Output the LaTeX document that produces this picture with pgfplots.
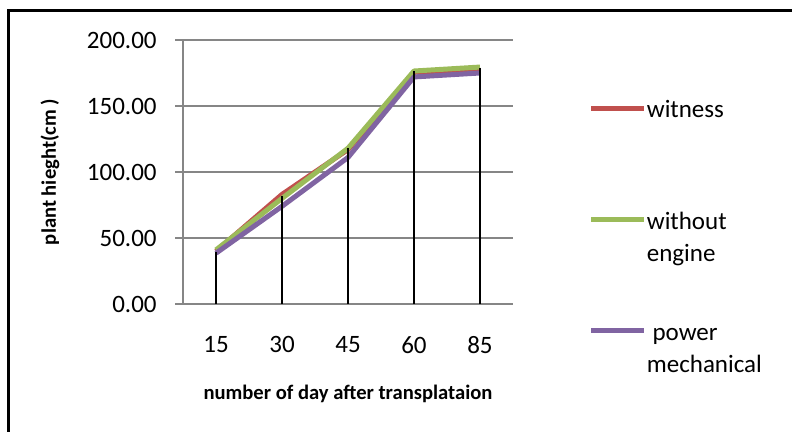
\documentclass[border=0pt]{standalone}
\usepackage{pgfplots}
\pgfplotsset{compat=1.18}
\usepackage{fontspec}
\setmainfont{Carlito}
\definecolor{cred}{HTML}{C0504D}
\definecolor{cgreen}{HTML}{9BBB59}
\definecolor{cpurple}{HTML}{8064A2}
\definecolor{cgrid}{HTML}{868686}
\begin{document}
\begin{tikzpicture}
\begin{axis}[
  at={(91.5pt,64pt)}, anchor=south west,
  scale only axis, width=165pt, height=132pt,
  xmin=-0.5, xmax=4.5, ymin=0, ymax=200,
  xtick={0,1,2,3,4}, xticklabels={15,30,45,60,85},
  ytick={0,50,100,150,200},
  yticklabel={\pgfmathprintnumber[fixed,fixed zerofill,precision=2]{\tick}},
  /pgf/number format/assume math mode=true,
  axis x line*=bottom, axis y line*=left,
  axis line style={color=cgrid, line width=0.75pt, -},
  ymajorgrids, grid style={color=cgrid, line width=0.75pt},
  xtick style={draw=none},
  ytick style={color=cgrid, line width=0.75pt},
  tick align=outside, major tick length=4pt,
  tick label style={font=\fontsize{12.5}{15}\selectfont},
  yticklabel style={inner sep=0pt, xshift=-9pt},
  xticklabel style={inner sep=0pt, yshift=-12pt},
  xlabel={number of day after transplataion},
  ylabel={plant hieght(cm )},
  label style={font=\fontsize{10.3}{12}\selectfont\bfseries},
  xlabel style={at={(axis description cs:0.5,0)}, anchor=center, yshift=-45pt},
  ylabel style={at={(axis description cs:0,0.5)}, anchor=center, yshift=66.5pt},
  legend style={at={(axis description cs:1.2288,0.792)}, anchor=north west, draw=none, fill=none,
    font=\fontsize{12.5}{16}\selectfont, row sep=43pt, column sep=0pt, inner sep=0pt,
    nodes={inner sep=0pt}},
  legend cell align=left,
  legend image code/.code={\draw[#1] (0pt,0pt) -- (26.5pt,0pt);},
]
\addplot[cred, line width=2.5pt, line join=round] coordinates {(0,40) (1,83) (2,117) (3,175.5) (4,178)};
\addlegendentry{\begin{tabular}[t]{@{}l@{}}witness\\ \mbox{}\end{tabular}}
\addplot[cgreen, line width=2.5pt, line join=round] coordinates {(0,41) (1,80) (2,118) (3,176.5) (4,179.5)};
\addlegendentry{\begin{tabular}[t]{@{}l@{}}without\\engine\end{tabular}}
\addplot[cpurple, line width=2.5pt, line join=round] coordinates {(0,38.5) (1,74) (2,111) (3,172) (4,175)};
\addlegendentry{\begin{tabular}[t]{@{}l@{}}\ power\\mechanical\end{tabular}}
\addplot[black, line width=1.3pt, ycomb, forget plot] coordinates {(0,39.7) (1,81.8) (2,118) (3,176.4) (4,178.9)};
\end{axis}
\pgfresetboundingbox
\useasboundingbox (0,0) rectangle (396pt,216pt);
\draw[line width=1.5pt] (4pt,-10pt) -- (4pt,210.5pt) -- (410pt,210.5pt);
\end{tikzpicture}
\end{document}
